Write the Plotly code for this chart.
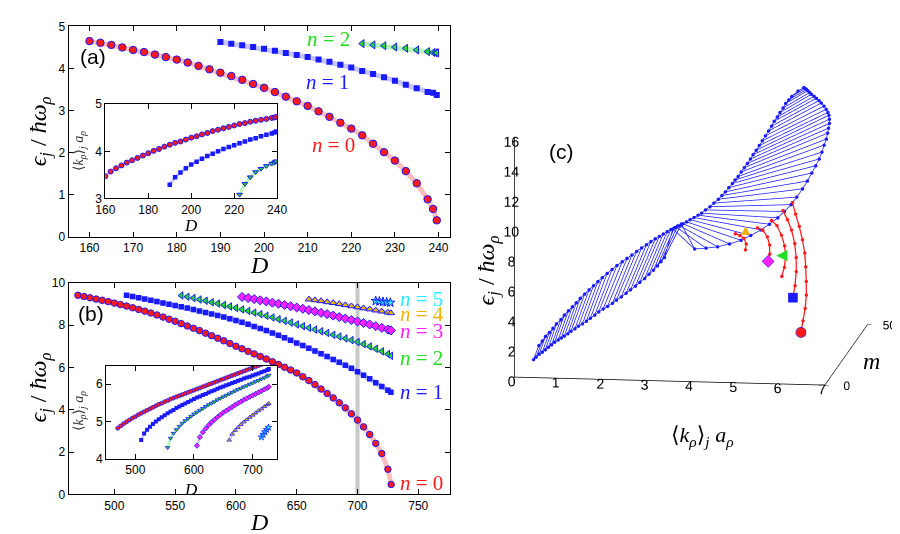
import plotly.graph_objects as go

W, H = 900, 534

# ---- panel (a): energies vs D, inset <k> vs D ----
D_A0 = [160, 162.5, 165, 167.5, 170, 172.5, 175, 177.5, 180, 182.5, 185, 187.5,
        190, 192.5, 195, 197.5, 200, 202.5, 205, 207.5, 210, 212.5, 215, 217.5,
        220, 222.5, 225, 227.5, 230, 232.5, 235, 237.5, 238.75, 239.6]
E_A0 = [4.65, 4.61, 4.56, 4.50, 4.44, 4.39, 4.33, 4.27, 4.21, 4.14, 4.06, 3.98,
        3.90, 3.82, 3.73, 3.63, 3.54, 3.44, 3.33, 3.22, 3.11, 2.98, 2.85, 2.71,
        2.57, 2.41, 2.21, 2.01, 1.81, 1.56, 1.27, 0.89, 0.66, 0.39]
K_A0 = [3.47, 3.57, 3.64, 3.70, 3.76, 3.81, 3.86, 3.91, 3.96, 4.01, 4.05, 4.10,
        4.14, 4.18, 4.21, 4.25, 4.29, 4.32, 4.36, 4.39, 4.43, 4.46, 4.49, 4.52,
        4.55, 4.58, 4.60, 4.63, 4.65, 4.67, 4.69, 4.71, 4.72, 4.73]

D_A1 = [190, 192.5, 195, 197.5, 200, 202.5, 205, 207.5, 210, 212.5, 215, 217.5,
        220, 222.5, 225, 227.5, 230, 232.5, 235, 237.5, 238.75, 239.6]
E_A1 = [4.63, 4.59, 4.55, 4.51, 4.47, 4.42, 4.37, 4.32, 4.27, 4.21, 4.16, 4.09,
        4.02, 3.94, 3.87, 3.79, 3.71, 3.61, 3.53, 3.44, 3.42, 3.37]
K_A1 = [3.29, 3.45, 3.55, 3.64, 3.72, 3.78, 3.84, 3.90, 3.95, 4.00, 4.05, 4.09,
        4.13, 4.17, 4.21, 4.25, 4.28, 4.32, 4.35, 4.38, 4.40, 4.42]

D_A2 = [222.5, 225, 227.5, 230, 232.5, 235, 237.5, 238.75, 239.3, 239.6]
E_A2 = [4.59, 4.56, 4.54, 4.51, 4.48, 4.44, 4.40, 4.38, 4.375, 4.37]
K_A2 = [3.08, 3.31, 3.45, 3.56, 3.63, 3.69, 3.74, 3.76, 3.78, 3.79]

# ---- panel (b) ----
D_MARK = 700

D_B0 = [470, 475, 480, 485, 490, 495, 500, 505, 510, 515, 520, 525, 530, 535,
        540, 545, 550, 555, 560, 565, 570, 575, 580, 585, 590, 595, 600, 605,
        610, 615, 620, 625, 630, 635, 640, 645, 650, 655, 660, 665, 670, 675,
        680, 685, 690, 695, 700, 705, 710, 715, 720, 725, 727.7]
E_B0 = [9.41, 9.35, 9.29, 9.23, 9.17, 9.11, 9.04, 8.97, 8.90, 8.82, 8.74, 8.66,
        8.57, 8.48, 8.38, 8.28, 8.18, 8.07, 7.96, 7.85, 7.74, 7.62, 7.50, 7.38,
        7.26, 7.13, 7.00, 6.88, 6.76, 6.64, 6.52, 6.40, 6.27, 6.14, 6.01, 5.88,
        5.74, 5.56, 5.38, 5.19, 4.98, 4.77, 4.56, 4.33, 4.09, 3.81, 3.51, 3.19,
        2.83, 2.41, 1.93, 1.19, 0.47]
K_B0 = [4.82, 4.88, 4.94, 4.99, 5.04, 5.09, 5.13, 5.18, 5.22, 5.26, 5.30, 5.34,
        5.38, 5.42, 5.46, 5.49, 5.53, 5.56, 5.60, 5.63, 5.66, 5.69, 5.72, 5.75,
        5.78, 5.81, 5.84, 5.87, 5.90, 5.93, 5.96, 5.99, 6.02, 6.05, 6.08, 6.11,
        6.14, 6.17, 6.20, 6.23, 6.26, 6.29, 6.32, 6.35, 6.38, 6.41, 6.44, 6.47,
        6.50, 6.53, 6.57, 6.62, 6.66]

D_B1 = [510, 515, 520, 525, 530, 535, 540, 545, 550, 555, 560, 565, 570, 575,
        580, 585, 590, 595, 600, 605, 610, 615, 620, 625, 630, 635, 640, 645,
        650, 655, 660, 665, 670, 675, 680, 685, 690, 695, 700, 705, 710, 715,
        720, 725, 727.5]
E_B1 = [9.41, 9.35, 9.29, 9.23, 9.17, 9.11, 9.05, 8.99, 8.93, 8.87, 8.81, 8.74,
        8.67, 8.60, 8.53, 8.46, 8.38, 8.30, 8.22, 8.13, 8.04, 7.94, 7.84, 7.74,
        7.63, 7.52, 7.40, 7.28, 7.16, 7.04, 6.91, 6.78, 6.65, 6.52, 6.38, 6.24,
        6.10, 5.96, 5.80, 5.63, 5.46, 5.28, 5.10, 4.92, 4.83]
K_B1 = [4.50, 4.68, 4.78, 4.86, 4.93, 5.00, 5.06, 5.11, 5.17, 5.22, 5.27, 5.31,
        5.36, 5.40, 5.44, 5.48, 5.52, 5.56, 5.60, 5.64, 5.67, 5.71, 5.74, 5.78,
        5.81, 5.84, 5.88, 5.91, 5.94, 5.97, 6.00, 6.03, 6.06, 6.09, 6.12, 6.15,
        6.18, 6.20, 6.23, 6.26, 6.29, 6.32, 6.35, 6.38, 6.41]

D_B2 = [555, 560, 565, 570, 575, 580, 585, 590, 595, 600, 605, 610, 615, 620,
        625, 630, 635, 640, 645, 650, 655, 660, 665, 670, 675, 680, 685, 690,
        695, 700, 705, 710, 715, 720, 725, 727.5]
E_B2 = [9.40, 9.34, 9.28, 9.21, 9.15, 9.08, 9.02, 8.95, 8.88, 8.81, 8.74, 8.67,
        8.59, 8.52, 8.44, 8.36, 8.28, 8.20, 8.12, 8.03, 7.95, 7.87, 7.79, 7.71,
        7.63, 7.54, 7.46, 7.37, 7.29, 7.20, 7.10, 6.99, 6.88, 6.76, 6.63, 6.55]
K_B2 = [4.30, 4.55, 4.68, 4.78, 4.87, 4.95, 5.02, 5.08, 5.14, 5.20, 5.25, 5.30,
        5.35, 5.40, 5.45, 5.49, 5.53, 5.58, 5.62, 5.66, 5.70, 5.74, 5.78, 5.82,
        5.86, 5.89, 5.93, 5.96, 6.00, 6.03, 6.07, 6.10, 6.14, 6.17, 6.21, 6.24]

D_B3 = [605, 610, 615, 620, 625, 630, 635, 640, 645, 650, 655, 660, 665, 670,
        675, 680, 685, 690, 695, 700, 705, 710, 715, 720, 725, 727.5]
E_B3 = [9.33, 9.28, 9.23, 9.17, 9.12, 9.06, 9.01, 8.95, 8.89, 8.83, 8.77, 8.71,
        8.65, 8.58, 8.52, 8.45, 8.38, 8.31, 8.24, 8.17, 8.10, 8.03, 7.95, 7.87,
        7.79, 7.75]
K_B3 = [4.35, 4.58, 4.71, 4.81, 4.90, 4.98, 5.05, 5.12, 5.18, 5.24, 5.29, 5.34,
        5.39, 5.44, 5.49, 5.53, 5.58, 5.62, 5.66, 5.70, 5.74, 5.78, 5.82, 5.86,
        5.90, 5.93]

D_B4 = [660, 665, 670, 675, 680, 685, 690, 695, 700, 705, 710, 715, 720, 725, 727.5]
E_B4 = [9.22, 9.18, 9.14, 9.09, 9.05, 9.00, 8.95, 8.90, 8.85, 8.80, 8.75, 8.70,
        8.65, 8.60, 8.57]
K_B4 = [4.50, 4.66, 4.76, 4.84, 4.92, 4.99, 5.05, 5.11, 5.17, 5.23, 5.29, 5.34,
        5.40, 5.45, 5.48]

D_B5 = [715, 718, 721, 724, 727]
E_B5 = [9.14, 9.12, 9.10, 9.08, 9.06]
K_B5 = [4.58, 4.65, 4.72, 4.78, 4.84]

# ---- panel (c): spectrum at D = 700, points (k, m, eps) ----
# each mesh line runs at constant m from end point A to end point B
MESH_M = [0, 0.5, 1, 2, 3, 3.5, 4, 4.5, 5, 6, 7, 7.5, 8, 8.5, 9, 10, 11, 11.5,
          12, 12.5, 13, 14, 15, 15.5, 16, 16.5, 17, 18, 19, 19.5, 20, 21, 22,
          22.5, 23,
          24, 25, 26, 26.5, 27, 27.5, 28, 29, 30, 30.5, 31, 31.5, 32, 33, 34,
          34.5, 35, 35.5, 36, 37, 38, 38.5, 39, 39.5, 40, 41, 42, 42.5, 43, 43.5,
          44, 45, 46, 46.5, 47, 47.5, 48, 50]
MESH_K_A = [0.43, 0.48, 0.54, 0.59, 0.64, 0.70, 0.76, 0.82, 0.89, 0.94, 0.99, 1.06,
            1.12, 1.20, 1.27, 1.34, 1.41, 1.49, 1.58, 1.66, 1.75, 1.83, 1.92, 2.00,
            2.10, 2.20, 2.29, 2.38, 2.46, 2.56, 2.65, 2.73, 2.80, 2.87, 2.94,
            3.11, 3.17, 3.23, 3.29, 3.36, 3.43, 3.51, 3.58, 3.64, 3.72, 3.81, 3.89,
            3.98, 4.04, 4.10, 4.17, 4.24, 4.29, 4.35, 4.40, 4.45, 4.51, 4.57, 4.62,
            4.68, 4.73, 4.78, 4.84, 4.90, 4.96, 5.01, 5.06, 5.10, 5.16, 5.21, 5.27,
            5.33, 5.43]
MESH_E_A = [1.20, 1.33, 1.49, 1.55, 1.63, 1.76, 1.89, 2.03, 2.14, 2.20, 2.25, 2.37,
            2.50, 2.63, 2.77, 2.85, 2.95, 3.11, 3.29, 3.47, 3.63, 3.73, 3.86, 4.04,
            4.22, 4.43, 4.63, 4.80, 4.98, 5.20, 5.45, 5.65, 5.86, 6.11, 6.35,
            8.19, 8.23, 8.24, 8.35, 8.44, 8.55, 8.66, 8.74, 8.80, 8.98, 9.16, 9.37,
            9.59, 9.76, 9.93, 10.18, 10.42, 10.62, 10.82, 11.04, 11.25, 11.50, 11.76,
            12.01, 12.27, 12.51, 12.75, 13.04, 13.33, 13.62, 13.91, 14.12, 14.33,
            14.60, 14.87, 15.07, 15.27, 15.47]
MESH_K_B = [0.55, 0.62, 0.68, 0.75, 0.81, 0.88, 0.97, 1.04, 1.12, 1.19, 1.26, 1.34,
            1.43, 1.52, 1.61, 1.69, 1.77, 1.87, 1.97, 2.07, 2.18, 2.27, 2.36, 2.46,
            2.56, 2.66, 2.75, 2.83, 2.90, 2.98, 3.06, 3.12, 3.19, 3.25, 3.32,
            3.60, 3.84, 4.08, 4.34, 4.59, 4.80, 5.02, 5.19, 5.36, 5.50, 5.64, 5.76,
            5.88, 5.97, 6.05, 6.13, 6.20, 6.25, 6.29, 6.32, 6.33, 6.34, 6.35, 6.34,
            6.32, 6.28, 6.22, 6.16, 6.09, 6.03, 5.96, 5.89, 5.81, 5.76, 5.71, 5.67,
            5.63, 5.56]
MESH_E_B = [2.15, 2.42, 2.69, 2.88, 3.08, 3.34, 3.59, 3.86, 4.11, 4.30, 4.49, 4.76,
            5.01, 5.26, 5.50, 5.70, 5.89, 6.14, 6.37, 6.60, 6.82, 6.97, 7.12, 7.33,
            7.53, 7.71, 7.89, 8.00, 8.08, 8.21, 8.33, 8.39, 8.45, 8.53, 8.62,
            6.89, 6.88, 6.91, 7.08, 7.30, 7.60, 7.95, 8.26, 8.62, 9.01, 9.44, 9.91,
            10.43, 10.88, 11.34, 11.79, 12.21, 12.63, 13.06, 13.38, 13.70, 13.99,
            14.27, 14.51, 14.73, 14.84, 14.96, 15.13, 15.29, 15.41, 15.51, 15.56,
            15.61, 15.68, 15.76, 15.80, 15.83, 15.71]

RED_M = [[0, 3, 6, 9, 12, 15, 18, 21, 24, 27, 30],
         [0, 3, 6, 9, 12, 15, 18, 21],
         [0, 3, 6, 9, 12, 15, 18],
         [0, 3, 6, 9, 12, 15],
         [0, 3, 6, 9, 12]]
RED_K = [[6.46, 6.45, 6.44, 6.41, 6.35, 6.28, 6.20, 6.09, 5.96, 5.82, 5.69],
         [6.28, 6.27, 6.24, 6.18, 6.09, 5.96, 5.81, 5.65],
         [6.03, 6.03, 6.00, 5.92, 5.79, 5.63, 5.45],
         [5.72, 5.70, 5.64, 5.53, 5.37, 5.19],
         [5.21, 5.17, 5.06, 4.91, 4.75]]
RED_E = [[3.49, 4.01, 4.59, 5.24, 5.91, 6.63, 7.30, 7.94, 8.58, 9.15, 9.66],
         [5.80, 6.34, 7.04, 7.73, 8.42, 9.06, 9.50, 9.85],
         [7.19, 7.55, 8.02, 8.49, 8.95, 9.34, 9.42],
         [8.17, 8.41, 8.77, 9.06, 9.25, 9.15],
         [8.90, 9.04, 9.17, 9.11, 8.97]]

BLUE = '#1a1aff'
RED = '#ff1a1a'
GREEN = '#22dd22'
MAGENTA = '#ff22ff'
ORANGE = '#f0b400'
CYAN = '#22eeff'

SANS = 'Liberation Sans, Arial, sans-serif'
SERIF = 'Liberation Serif, DejaVu Serif, serif'


def px(x):
    return x / W


def py(y):
    return 1 - y / H


fig = go.Figure()


def add_series(x, y, xa, ya, symbol, fill, size, halo, width, edge=1.0):
    fig.add_trace(go.Scatter(
        x=x, y=y, xaxis=xa, yaxis=ya, mode='lines+markers',
        line=dict(color=halo, width=width),
        marker=dict(symbol=symbol, color=fill, size=size,
                    line=dict(color=BLUE, width=edge)),
        showlegend=False, hoverinfo='skip'))


HALO_R = 'rgba(255,110,110,0.45)'
HALO_B = 'rgba(110,110,255,0.40)'
HALO_G = 'rgba(110,235,110,0.50)'

# (a) main
add_series(D_A0, E_A0, 'x', 'y', 'circle', RED, 7.5, HALO_R, 5)
add_series(D_A1, E_A1, 'x', 'y', 'square', BLUE, 6, HALO_B, 5, 0)
add_series(D_A2, E_A2, 'x', 'y', 'triangle-left', GREEN, 7, HALO_G, 5)
# (a) inset
add_series(D_A0, K_A0, 'x2', 'y2', 'circle', RED, 5, HALO_R, 3)
add_series(D_A1, K_A1, 'x2', 'y2', 'square', BLUE, 4.5, HALO_B, 3, 0)
add_series(D_A2, K_A2, 'x2', 'y2', 'triangle-down', GREEN, 5, HALO_G, 3)

# (b) main
fig.add_trace(go.Scatter(x=[D_MARK, D_MARK], y=[0, 10], xaxis='x3', yaxis='y3',
                         mode='lines', line=dict(color='#c8c8c8', width=4),
                         showlegend=False, hoverinfo='skip'))
add_series(D_B0, E_B0, 'x3', 'y3', 'circle', RED, 6.5, HALO_R, 5)
add_series(D_B1, E_B1, 'x3', 'y3', 'square', BLUE, 5.5, HALO_B, 5, 0)
add_series(D_B2, E_B2, 'x3', 'y3', 'triangle-left', GREEN, 6.5, HALO_G, 4)
add_series(D_B3, E_B3, 'x3', 'y3', 'diamond', MAGENTA, 7, HALO_B, 4)
add_series(D_B4, E_B4, 'x3', 'y3', 'triangle-up', ORANGE, 6.5, HALO_B, 4)
add_series(D_B5, E_B5, 'x3', 'y3', 'star', CYAN, 7, HALO_B, 4)
# (b) inset
add_series(D_B0, K_B0, 'x4', 'y4', 'circle', RED, 4, HALO_R, 2.5, 0.8)
add_series(D_B1, K_B1, 'x4', 'y4', 'square', BLUE, 4, HALO_B, 2.5, 0)
add_series(D_B2, K_B2, 'x4', 'y4', 'triangle-down', GREEN, 4, HALO_G, 2.5, 0.8)
add_series(D_B3, K_B3, 'x4', 'y4', 'diamond', MAGENTA, 4, HALO_B, 2.5, 0.8)
add_series(D_B4, K_B4, 'x4', 'y4', 'triangle-up', ORANGE, 4, HALO_B, 2.5, 0.8)
add_series(D_B5, K_B5, 'x4', 'y4', 'star', CYAN, 5, HALO_B, 2.5, 0.8)

# (c) blue mesh: constant-m lines, plus the two edge curves
hx, hy, hz = [], [], []
for m, ka, ea, kb, eb in zip(MESH_M, MESH_K_A, MESH_E_A, MESH_K_B, MESH_E_B):
    hx += [ka, kb, None]
    hy += [m, m, None]
    hz += [ea, eb, None]
fig.add_trace(go.Scatter3d(x=hx, y=hy, z=hz, mode='lines+markers',
                           line=dict(color=BLUE, width=1.5),
                           marker=dict(color=BLUE, size=2),
                           showlegend=False, hoverinfo='skip'))
for ks, es in ((MESH_K_A, MESH_E_A), (MESH_K_B, MESH_E_B)):
    fig.add_trace(go.Scatter3d(x=ks, y=MESH_M, z=es, mode='lines+markers',
                               line=dict(color=BLUE, width=1.5),
                               marker=dict(color=BLUE, size=1.5),
                               showlegend=False, hoverinfo='skip'))

for ms, ks, es in zip(RED_M, RED_K, RED_E):
    fig.add_trace(go.Scatter3d(x=ks, y=ms, z=es, mode='lines+markers',
                               line=dict(color=RED, width=2.5),
                               marker=dict(color=RED, size=2),
                               showlegend=False, hoverinfo='skip'))

# m = 0 end points of the red curves
end_k = [ks[0] for ks in RED_K]
end_e = [es[0] for es in RED_E]
fig.add_trace(go.Scatter3d(x=end_k[:1], y=[0], z=end_e[:1], mode='markers',
                           marker=dict(symbol='circle', color=RED, size=6,
                                       line=dict(color=BLUE, width=1.5)),
                           showlegend=False, hoverinfo='skip'))
fig.add_trace(go.Scatter3d(x=end_k[1:2], y=[0], z=end_e[1:2], mode='markers',
                           marker=dict(symbol='square', color=BLUE, size=5),
                           showlegend=False, hoverinfo='skip'))
fig.add_trace(go.Scatter3d(x=end_k[3:4], y=[0], z=end_e[3:4], mode='markers',
                           marker=dict(symbol='diamond', color=MAGENTA, size=4,
                                       line=dict(color=BLUE, width=1)),
                           showlegend=False, hoverinfo='skip'))
fig.add_trace(go.Scatter3d(x=[end_k[2], end_k[4]], y=[0, 0], z=[end_e[2], end_e[4]],
                           mode='text', text=['◀', '▲'],
                           textfont=dict(color=[GREEN, ORANGE], size=15),
                           showlegend=False, hoverinfo='skip'))

axis2d = dict(showline=True, linecolor='black', linewidth=1, mirror='allticks',
              ticks='inside', ticklen=5, tickcolor='black', showgrid=False,
              zeroline=False, tickfont=dict(family=SANS, size=12, color='black'))

axis3d = dict(showline=True, linecolor='black', linewidth=1.5, showgrid=False,
              zeroline=False, showbackground=False, showspikes=False,
              ticks='outside', ticklen=4, tickcolor='black', tickangle=0,
              title=dict(text=''),
              tickfont=dict(family=SANS, size=13, color='black'))

fig.update_layout(
    width=W, height=H, margin=dict(l=0, r=0, t=0, b=0),
    paper_bgcolor='white', plot_bgcolor='white',
    xaxis=dict(axis2d, domain=[px(51.7), px(441.7)], range=[155.2, 242.6],
               tickvals=[160, 170, 180, 190, 200, 210, 220, 230, 240], anchor='y'),
    yaxis=dict(axis2d, domain=[py(227.7), py(11.7)], range=[0, 5],
               tickvals=[0, 1, 2, 3, 4, 5], anchor='x'),
    xaxis2=dict(axis2d, domain=[px(89.3), px(265)], range=[160, 240],
                tickvals=[160, 180, 200, 220, 240], anchor='y2'),
    yaxis2=dict(axis2d, domain=[py(188.3), py(91.7)], range=[3, 5],
                tickvals=[3, 4, 5], anchor='x2'),
    xaxis3=dict(axis2d, domain=[px(51.7), px(441.7)], range=[462.3, 776],
                tickvals=[500, 550, 600, 650, 700, 750], anchor='y3'),
    yaxis3=dict(axis2d, domain=[py(492.3), py(275)], range=[0, 10],
                tickvals=[0, 2, 4, 6, 8, 10], anchor='x3'),
    xaxis4=dict(axis2d, domain=[px(90), px(265)], range=[450, 741.7],
                tickvals=[500, 600, 700], anchor='y4'),
    yaxis4=dict(axis2d, domain=[py(455.7), py(360)], range=[4, 6.5],
                tickvals=[4, 5, 6], anchor='x4'),
    scene=dict(
        domain=dict(x=[0.53, 1.0], y=[0.17, 1.0]),
        xaxis=dict(axis3d, range=[0, 7], tickvals=[0, 1, 2, 3, 4, 5, 6, 7]),
        yaxis=dict(axis3d, range=[0, 50], tickvals=[0, 50],
                   tickfont=dict(family=SANS, size=12, color='black')),
        zaxis=dict(axis3d, range=[0, 16], tickvals=[0, 2, 4, 6, 8, 10, 12, 14, 16]),
        aspectmode='manual', aspectratio=dict(x=1.45, y=1.48, z=1.13),
        camera=dict(eye=dict(x=0.324, y=-2.4, z=0.472),
                    up=dict(x=0, y=0, z=1), center=dict(x=0, y=0, z=0.0),
                    projection=dict(type='orthographic')),
        bgcolor='rgba(0,0,0,0)'),
)

EPS = '<i>ϵ<sub>j</sub></i> / <i>ħω<sub>ρ</sub></i>'
KAVG = '⟨<i>k<sub>ρ</sub></i>⟩<sub><i>j</i></sub> <i>a<sub>ρ</sub></i>'


def note(text, x, y, size=19, color='black', family=SERIF, angle=0, xanchor='center'):
    fig.add_annotation(text=text, x=px(x), y=py(y), xref='paper', yref='paper',
                       showarrow=False, textangle=angle, xanchor=xanchor,
                       yanchor='middle',
                       font=dict(family=family, size=size, color=color))


note('(a)', 77, 43, 21, family=SANS)
note('(b)', 75, 307, 21, family=SANS)
note('(c)', 556, 140, 21, family=SANS)

note('<i>n</i> = 2', 294, 25, 21, GREEN, xanchor='left')
note('<i>n</i> = 1', 292, 69, 21, BLUE, xanchor='left')
note('<i>n</i> = 0', 299, 133, 21, RED, xanchor='left')

note('<i>n</i> = 5', 389, 292, 21, CYAN, xanchor='left')
note('<i>n</i> = 4', 389, 307, 21, ORANGE, xanchor='left')
note('<i>n</i> = 3', 389, 325, 21, MAGENTA, xanchor='left')
note('<i>n</i> = 2', 389, 352, 21, GREEN, xanchor='left')
note('<i>n</i> = 1', 389, 387, 21, BLUE, xanchor='left')
note('<i>n</i> = 0', 389, 481, 21, RED, xanchor='left')

note('<i>D</i>', 246, 257, 24)
note('<i>D</i>', 246, 521, 24)
note(EPS, 22, 120, 24, angle=-90)
note(EPS, 22, 383, 24, angle=-90)
note('<i>D</i>', 177, 216, 17)
note('<i>D</i>', 177, 487, 17)
note(KAVG, 63, 140, 14, '#333333', angle=-90)
note(KAVG, 63, 407, 14, '#333333', angle=-90)

note(EPS, 481, 262, 24, angle=-90)
note(KAVG, 700, 432, 22)
note('<i>m</i>', 873, 355, 24)

fig.write_html("out.html")
